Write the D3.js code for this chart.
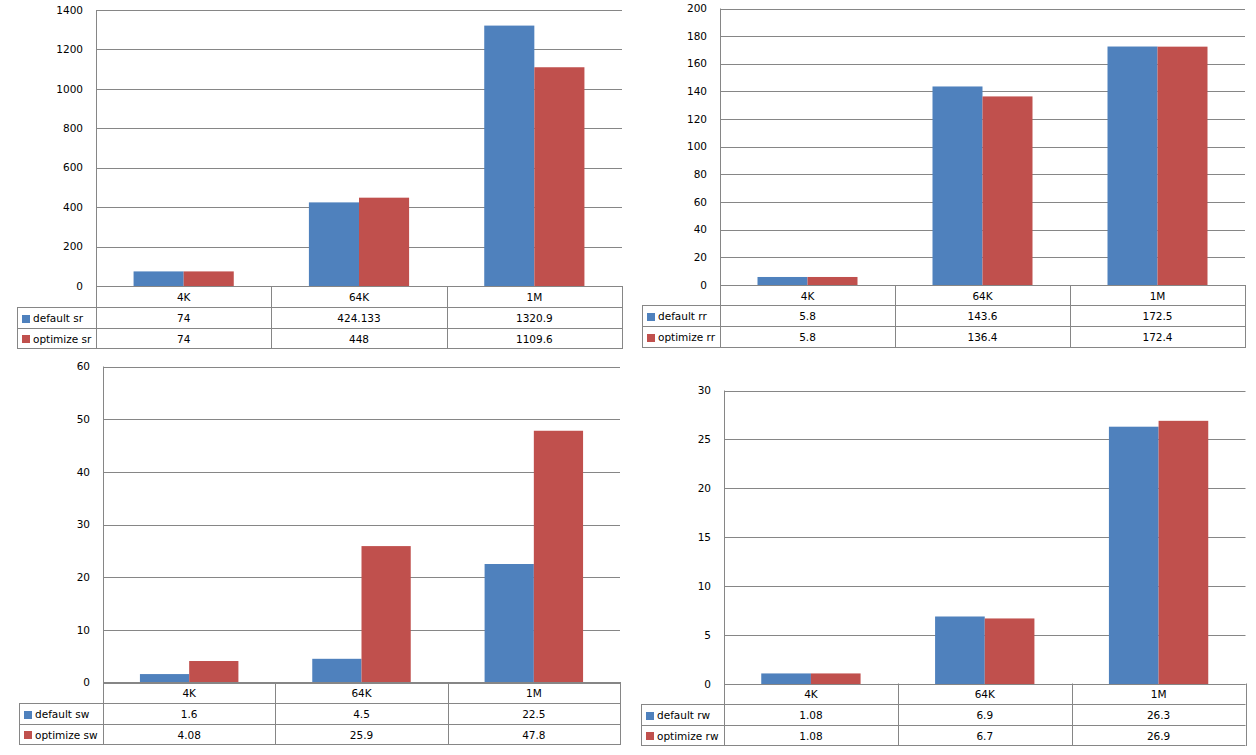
<!DOCTYPE html>
<html>
<head>
<meta charset="utf-8">
<script src="https://cdn.jsdelivr.net/npm/d3@7"></script>
<style>
  html, body { margin: 0; padding: 0; background: #fff; }
  svg { display: block; }
  text { font-family: "DejaVu Sans", Verdana, sans-serif; font-size: 10.5px; fill: #000; }
</style>
</head>
<body>
<svg id="chart" width="1256" height="755"></svg>
<script>
// ---------------- data ----------------
const categories = ["4K", "64K", "1M"];

const srSeries = ["default sr", "optimize sr"];
const srDefault = [74, 424.133, 1320.9];
const srOptimize = [74, 448, 1109.6];
const srTicks = [0, 200, 400, 600, 800, 1000, 1200, 1400];

const rrSeries = ["default rr", "optimize rr"];
const rrDefault = [5.8, 143.6, 172.5];
const rrOptimize = [5.8, 136.4, 172.4];
const rrTicks = [0, 20, 40, 60, 80, 100, 120, 140, 160, 180, 200];

const swSeries = ["default sw", "optimize sw"];
const swDefault = [1.6, 4.5, 22.5];
const swOptimize = [4.08, 25.9, 47.8];
const swTicks = [0, 10, 20, 30, 40, 50, 60];

const rwSeries = ["default rw", "optimize rw"];
const rwDefault = [1.08, 6.9, 26.3];
const rwOptimize = [1.08, 6.7, 26.9];
const rwTicks = [0, 5, 10, 15, 20, 25, 30];

const colors = ["#4F81BD", "#C0504D"];
const lineColor = "#868686";

// ---------------- drawing ----------------
const svg = d3.select("#chart");

function drawChart(cfg) {
  const g = svg.append("g");
  const values = [cfg.a, cfg.b];
  const labelsText = [cfg.aLabel, cfg.bLabel];
  const ticks = cfg.ticks;

  const y = d3.scaleLinear().domain([0, ticks[ticks.length - 1]]).range([cfg.bottom, cfg.top]);
  const x0 = d3.scaleBand().domain(categories).range([cfg.left, cfg.right]).padding(0);
  const x1 = d3.scaleBand().domain([0, 1]).range([0, x0.bandwidth()]).paddingInner(0).paddingOuter(0.75);

  // gridlines
  g.selectAll("line.grid").data(ticks).enter().append("line")
    .attr("x1", cfg.left).attr("x2", cfg.right)
    .attr("y1", d => Math.round(y(d)) + 0.5).attr("y2", d => Math.round(y(d)) + 0.5)
    .attr("stroke", lineColor).attr("stroke-width", 1);

  // y tick labels
  g.selectAll("text.ytick").data(ticks).enter().append("text")
    .attr("x", cfg.left - 13).attr("y", d => y(d)).attr("dy", "0.35em")
    .attr("text-anchor", "end").text(d => d);

  // bars
  values.forEach((vals, si) => {
    g.selectAll("rect.s" + si).data(vals).enter().append("rect")
      .attr("x", (d, i) => x0(categories[i]) + x1(si))
      .attr("width", x1.bandwidth())
      .attr("y", d => y(d))
      .attr("height", d => y(0) - y(d))
      .attr("fill", colors[si]);
  });

  // table
  const rows = cfg.rows; // [baseline, row1, row2, bottom]
  const hl = (x1p, x2p, yy) => g.append("line").attr("x1", x1p).attr("x2", x2p)
      .attr("y1", Math.round(yy) + 0.5).attr("y2", Math.round(yy) + 0.5).attr("stroke", lineColor);
  const vl = (xx, y1p, y2p) => g.append("line").attr("x1", Math.round(xx) + 0.5).attr("x2", Math.round(xx) + 0.5)
      .attr("y1", y1p).attr("y2", y2p).attr("stroke", lineColor);

  hl(cfg.left, cfg.right, rows[0]);
  hl(cfg.legendLeft, cfg.right, rows[1]);
  hl(cfg.legendLeft, cfg.right, rows[2]);
  hl(cfg.legendLeft, cfg.right, rows[3]);
  vl(cfg.left, cfg.top, rows[3] + 1);
  vl(cfg.legendLeft, rows[1], rows[3] + 1);
  categories.forEach((c, i) => {
    vl(x0(c) + x0.bandwidth(), rows[0], rows[3] + 1);
  });

  // category labels
  g.selectAll("text.cat").data(categories).enter().append("text")
    .attr("x", d => x0(d) + x0.bandwidth() / 2)
    .attr("y", (rows[0] + rows[1]) / 2 + 1).attr("dy", "0.35em")
    .attr("text-anchor", "middle").text(d => d);

  // value rows
  values.forEach((vals, si) => {
    const cy = (rows[si + 1] + rows[si + 2]) / 2 + 1;
    g.selectAll("text.v" + si).data(vals).enter().append("text")
      .attr("x", (d, i) => x0(categories[i]) + x0.bandwidth() / 2)
      .attr("y", cy).attr("dy", "0.35em")
      .attr("text-anchor", "middle").text(d => d);
    g.append("rect").attr("x", cfg.legendLeft + 5).attr("y", Math.round(cy) - 4)
      .attr("width", 8).attr("height", 8).attr("fill", colors[si]);
    g.append("text").attr("x", cfg.legendLeft + 16).attr("y", cy).attr("dy", "0.35em")
      .text(labelsText[si]);
  });
}

drawChart({ a: srDefault, b: srOptimize, aLabel: srSeries[0], bLabel: srSeries[1], ticks: srTicks,
  left: 96, right: 622, top: 10, bottom: 286, rows: [286, 307, 328, 348], legendLeft: 17 });
drawChart({ a: rrDefault, b: rrOptimize, aLabel: rrSeries[0], bLabel: rrSeries[1], ticks: rrTicks,
  left: 720, right: 1245, top: 8.5, bottom: 285, rows: [285, 305, 326, 347], legendLeft: 642 });
drawChart({ a: swDefault, b: swOptimize, aLabel: swSeries[0], bLabel: swSeries[1], ticks: swTicks,
  left: 103, right: 620, top: 366.5, bottom: 682.5, rows: [682, 703, 724, 744], legendLeft: 19 });
drawChart({ a: rwDefault, b: rwOptimize, aLabel: rwSeries[0], bLabel: rwSeries[1], ticks: rwTicks,
  left: 724, right: 1245.5, top: 390.5, bottom: 684, rows: [683.5, 704, 725, 745], legendLeft: 641 });
</script>
</body>
</html>
